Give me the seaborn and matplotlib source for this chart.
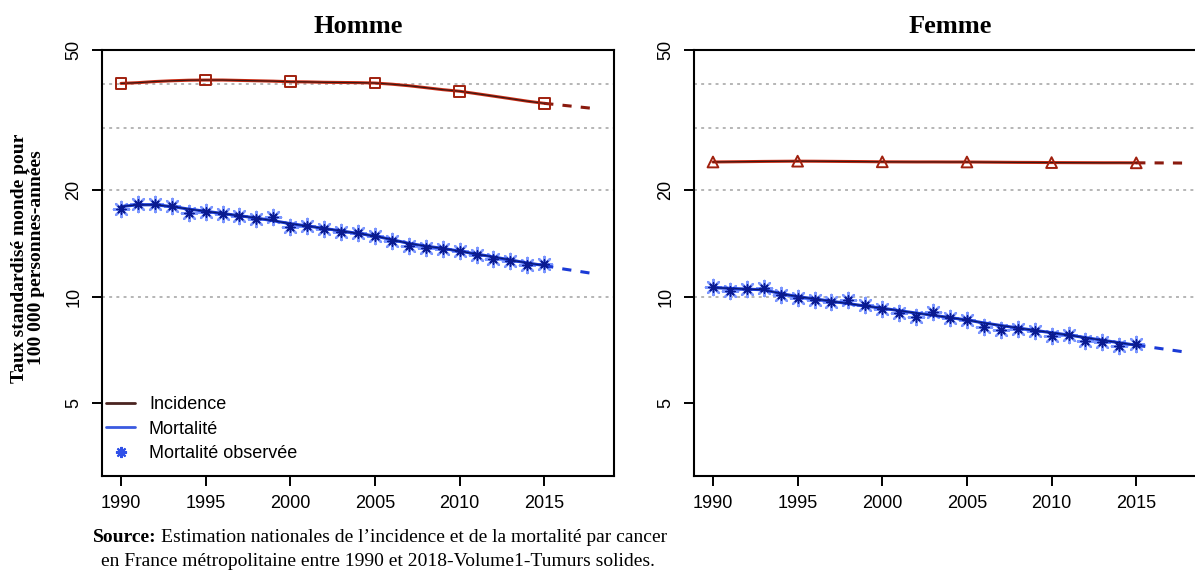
import numpy as np
import pandas as pd
import matplotlib
matplotlib.use("Agg")
import matplotlib.pyplot as plt
import seaborn as sns
from matplotlib.lines import Line2D
from matplotlib.ticker import FixedLocator, NullLocator, FixedFormatter

# ---------------- data ----------------
years_fit = list(range(1990, 2019))
years_obs = list(range(1990, 2016))
years_mark = [1990, 1995, 2000, 2005, 2010, 2015]

homme_incidence = [40.2, 40.4, 40.7, 40.9, 41.05, 41.1, 41.1, 41.0, 40.9, 40.8,
                   40.65, 40.6, 40.5, 40.45, 40.4, 40.3, 40.0, 39.6, 39.1, 38.6,
                   38.2, 37.6, 37.0, 36.4, 35.8, 35.3, 34.9, 34.5, 34.1]
homme_mortalite = [18.0, 18.2, 18.2, 18.0, 17.7, 17.45, 17.2, 16.95, 16.7, 16.4,
                   16.1, 15.85, 15.6, 15.35, 15.1, 14.85, 14.5, 14.15, 13.9, 13.7,
                   13.45, 13.2, 12.95, 12.7, 12.45, 12.25, 12.0, 11.8, 11.6]
homme_obs = [17.75, 18.25, 18.25, 18.1, 17.29, 17.35, 17.1, 16.9, 16.63, 16.85,
             15.74, 15.85, 15.57, 15.23, 15.17, 14.84, 14.36, 13.9, 13.76, 13.6,
             13.45, 13.15, 12.8, 12.6, 12.25, 12.33]

femme_incidence = [24.07, 24.1, 24.13, 24.16, 24.18, 24.2, 24.19, 24.17, 24.15, 24.13,
                   24.1, 24.09, 24.08, 24.08, 24.07, 24.07, 24.05, 24.03, 24.01, 24.0,
                   23.98, 23.97, 23.96, 23.95, 23.95, 23.94, 23.93, 23.92, 23.9]
femme_mortalite = [10.6, 10.55, 10.5, 10.45, 10.2, 10.0, 9.85, 9.7, 9.55, 9.4,
                   9.27, 9.12, 8.98, 8.85, 8.72, 8.58, 8.42, 8.28, 8.15, 8.02,
                   7.9, 7.78, 7.65, 7.52, 7.4, 7.28, 7.17, 7.06, 6.95]
femme_obs = [10.63, 10.38, 10.52, 10.6, 10.09, 9.91, 9.80, 9.63, 9.76, 9.49,
             9.23, 8.99, 8.76, 9.03, 8.68, 8.60, 8.2, 8.06, 8.11, 8.0,
             7.72, 7.8, 7.5, 7.44, 7.22, 7.34]

panel_titles = ["Homme", "Femme"]
x_ticks = [1990, 1995, 2000, 2005, 2010, 2015]
y_ticks = [5, 10, 20, 50]
grid_vals = [10, 20, 30, 40]
legend_labels = ["Incidence", "Mortalité", "Mortalité observée"]
ylabel = "Taux standardisé monde pour\n100 000 personnes-années"

# ---------------- style ----------------
sns.set_theme(style="white")
plt.rcParams['font.family'] = ['Liberation Sans', 'DejaVu Sans']
plt.rcParams['text.color'] = 'black'
plt.rcParams['xtick.color'] = 'black'
plt.rcParams['ytick.color'] = 'black'

RED = "#cc2a12"
DARK = "#3b1a16"
BLUE = "#1a3ad6"
BLUE_LIGHT = "#7b96ff"

fig = plt.figure(figsize=(11.95, 5.72), dpi=100)
ax_h = fig.add_axes([102/1195, 1-476/572, 512/1195, 426/572])
ax_f = fig.add_axes([694/1195, 1-476/572, 512/1195, 426/572])


def draw_panel(ax, inc, mort, obs, marker, title):
    df_fit = pd.DataFrame({"annee": years_fit, "inc": inc, "mort": mort})
    solid = df_fit[df_fit.annee <= 2015]
    proj = df_fit[df_fit.annee >= 2015]
    df_obs = pd.DataFrame({"annee": years_obs, "obs": obs})
    df_mark = df_fit[df_fit.annee.isin(years_mark)]

    for y in grid_vals:
        ax.axhline(y, color="#b5b5b5", lw=1.4, ls=(0, (1.5, 2.2)), zorder=0)

    # incidence
    sns.lineplot(data=solid, x="annee", y="inc", ax=ax, color=RED, lw=2.2, zorder=2)
    sns.lineplot(data=solid, x="annee", y="inc", ax=ax, color=DARK, lw=0.9,
                 zorder=3)
    sns.lineplot(data=proj, x="annee", y="inc", ax=ax, color="#8a1a0e", lw=2.2,
                 ls=(0, (3, 3)), zorder=2)
    sns.scatterplot(data=df_mark, x="annee", y="inc", ax=ax, marker=marker, s=60,
                    facecolor="none", edgecolor="#a0200e", linewidth=1.4, zorder=4)

    # mortality
    sns.scatterplot(data=df_obs, x="annee", y="obs", ax=ax, marker=(8, 2, 0), s=120,
                    color=BLUE_LIGHT, linewidth=1.7, zorder=3)
    sns.lineplot(data=solid, x="annee", y="mort", ax=ax, color=BLUE, lw=2.2, zorder=4)
    sns.lineplot(data=solid, x="annee", y="mort", ax=ax, color="#0a1a6a", lw=0.8, zorder=5)
    sns.scatterplot(data=df_obs, x="annee", y="obs", ax=ax, marker=(8, 2, 0), s=45,
                    color="#0a1a90", linewidth=1.0, zorder=6)
    sns.lineplot(data=proj, x="annee", y="mort", ax=ax, color=BLUE, lw=2.2,
                 ls=(0, (3, 3)), zorder=4)

    ax.set_yscale("log")
    ax.set_ylim(3.1, 50)
    ax.set_xlim(1988.88, 2019.12)
    ax.yaxis.set_major_locator(FixedLocator(y_ticks))
    ax.yaxis.set_major_formatter(FixedFormatter([str(v) for v in y_ticks]))
    ax.yaxis.set_minor_locator(NullLocator())
    ax.set_xticks(x_ticks)
    ax.set_xticklabels([str(v) for v in x_ticks])
    ax.tick_params(axis="both", which="major", direction="out", length=7, width=1.4,
                   color="black", labelcolor="black", labelsize=13, bottom=True,
                   left=True, pad=7)
    for lab in ax.get_yticklabels():
        lab.set_rotation(90)
        lab.set_va("center")
    ax.set_xlabel("")
    ax.set_ylabel("")
    for sp in ax.spines.values():
        sp.set_color("black")
        sp.set_linewidth(1.5)
    ax.set_title(title, fontsize=19, fontweight="bold", family="Liberation Serif",
                 pad=12, color="black")
    ax.grid(False)


draw_panel(ax_h, homme_incidence, homme_mortalite, homme_obs, "s", panel_titles[0])
draw_panel(ax_f, femme_incidence, femme_mortalite, femme_obs, "^", panel_titles[1])

handles = [Line2D([], [], color="#4a2420", lw=2),
           Line2D([], [], color="#3a5ae0", lw=2),
           Line2D([], [], color="#3050e8", lw=0, marker=(8, 2, 0), markersize=8,
                  markeredgewidth=1.5)]
leg = ax_h.legend(handles, legend_labels, loc="lower left", frameon=False,
                  fontsize=13, handlelength=1.65, handletextpad=0.75, labelspacing=0.42,
                  borderaxespad=0.0, borderpad=0.2, bbox_to_anchor=(0.0, 0.024))
for t in leg.get_texts():
    t.set_color("black")

fig.text(28/1195, 1-258/572, ylabel, rotation=90, ha="center", va="center",
         fontsize=14, fontweight="bold", family="Liberation Serif", linespacing=1.0)

src_y1 = 1 - 538/572
t1 = fig.text(93/1195, src_y1, "Source:", ha="left", va="center", fontsize=14,
              fontweight="bold", family="Liberation Serif")
fig.canvas.draw()
bb = t1.get_window_extent()
fig.text((bb.x1 + 4)/1195, src_y1,
         "Estimation nationales de l’incidence et de la mortalité par cancer",
         ha="left", va="center", fontsize=14, family="Liberation Serif")
fig.text(378/1195, 1-561/572,
         "en France métropolitaine entre 1990 et 2018-Volume1-Tumurs solides.",
         ha="center", va="center", fontsize=14, family="Liberation Serif")

fig.savefig("out.png", dpi=100)
